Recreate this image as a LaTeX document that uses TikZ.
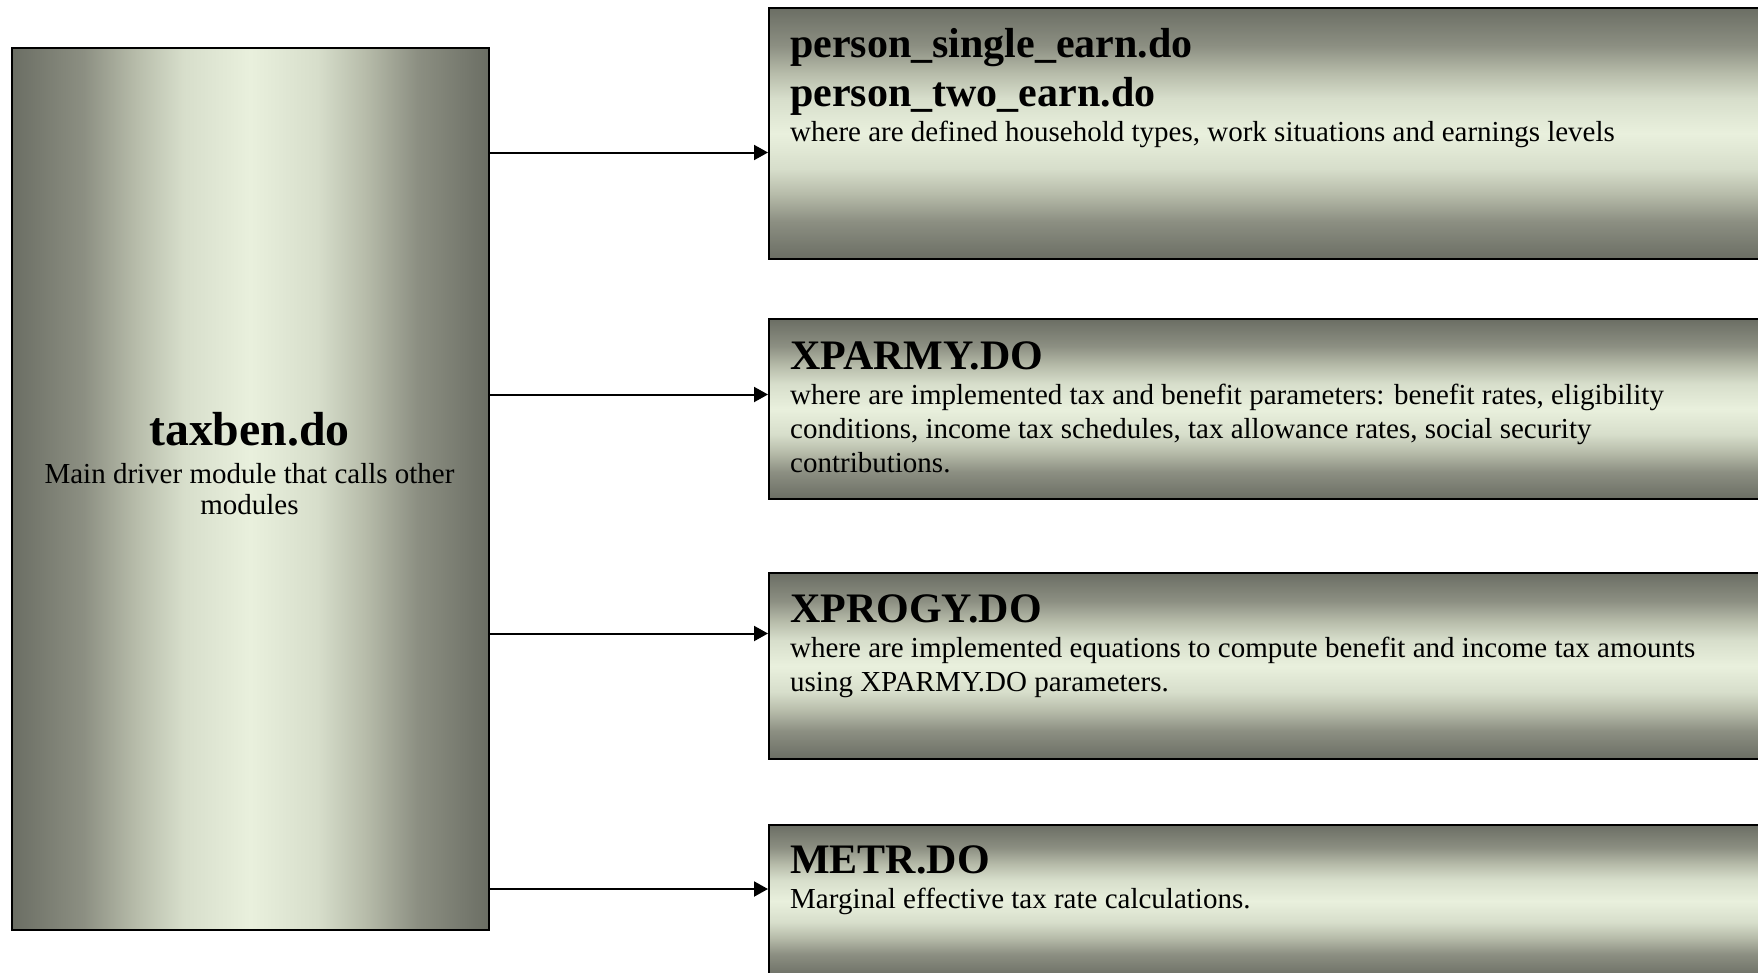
\documentclass[tikz,border=0pt]{standalone}
\usepackage{fontspec}
\setmainfont{Liberation Serif}
\usetikzlibrary{arrows.meta}
\definecolor{dk}{RGB}{107,110,100}
\definecolor{mdA}{RGB}{140,143,130}
\definecolor{mdB}{RGB}{183,188,170}
\definecolor{mdC}{RGB}{215,222,203}
\definecolor{lt}{RGB}{233,240,221}
\pgfdeclarehorizontalshading{hmetal}{100bp}{color(0bp)=(dk); color(25bp)=(dk); color(32.5bp)=(mdA); color(38bp)=(mdB); color(43bp)=(mdC); color(50bp)=(lt); color(57bp)=(mdC); color(62bp)=(mdB); color(67.5bp)=(mdA); color(75bp)=(dk); color(100bp)=(dk)}
\pgfdeclareverticalshading{vmetal}{100bp}{color(0bp)=(dk); color(25bp)=(dk); color(32.5bp)=(mdA); color(38bp)=(mdB); color(43bp)=(mdC); color(50bp)=(lt); color(57bp)=(mdC); color(62bp)=(mdB); color(67.5bp)=(mdA); color(75bp)=(dk); color(100bp)=(dk)}
\tikzset{
 lbox/.style={rectangle, draw=black, line width=2bp, shade, shading=hmetal, inner sep=0pt, anchor=north west},
 rbox/.style={rectangle, draw=black, line width=2bp, shade, shading=vmetal, inner sep=0pt, anchor=north west},
 head/.style={anchor=base west, inner sep=0pt, font=\fontsize{42bp}{48bp}\selectfont\bfseries},
 body/.style={anchor=base west, inner sep=0pt, font=\fontsize{29bp}{33.5bp}\selectfont},
 lhead/.style={anchor=base, inner sep=0pt, font=\fontsize{47.8bp}{54bp}\selectfont\bfseries},
 lbody/.style={anchor=base, inner sep=0pt, font=\fontsize{29bp}{31bp}\selectfont},
 arr/.style={draw=black, line width=2bp, -{Triangle[length=14bp,width=15bp]}},
}
\begin{document}
\begin{tikzpicture}[x=1bp, y=-1bp]
\useasboundingbox (0,0) rectangle (1758,972);
\clip (0,0) rectangle (1758,972);
% left box
\node[lbox, minimum width=477bp, minimum height=882bp] (L) at (11,47) {};
\node[lhead] (Lh) at (249.5,445) {taxben.do};
\node[lbody] (Lb1) at (249.5,483) {Main driver module that calls other};
\node[lbody] (Lb2) at (249.5,514) {modules};
% right boxes
\node[rbox, minimum width=1100bp, minimum height=251bp] (B1) at (768,7) {};
\node[rbox, minimum width=1100bp, minimum height=180bp] (B2) at (768,318) {};
\node[rbox, minimum width=1100bp, minimum height=186bp] (B3) at (768,572) {};
\node[rbox, minimum width=1100bp, minimum height=152bp] (B4) at (768,824) {};
% texts box 1
\node[head] (h1a) at (790,57) {person\_single\_earn.do};
\node[head] (h1b) at (790,106) {person\_two\_earn.do};
\node[body] (b1a) at (790,141) {where are defined household types, work situations and earnings levels};
% texts box 2
\node[head] (h2) at (790,369) {XPARMY.DO};
\node[body] (b2a) at (790,404) {where are implemented tax and benefit parameters: benefit rates, eligibility};
\node[body] (b2b) at (790,438) {conditions, income tax schedules, tax allowance rates, social security};
\node[body] (b2c) at (790,472) {contributions.};
% texts box 3
\node[head] (h3) at (790,622) {XPROGY.DO};
\node[body] (b3a) at (790,657) {where are implemented equations to compute benefit and income tax amounts};
\node[body] (b3b) at (790,691) {using XPARMY.DO parameters.};
% texts box 4
\node[head] (h4) at (790,873) {METR.DO};
\node[body] (b4a) at (790,908) {Marginal effective tax rate calculations.};
% connectors
\coordinate (y1) at (0,152.5);
\coordinate (y2) at (0,394.5);
\coordinate (y3) at (0,633.5);
\coordinate (y4) at (0,889);
\draw[arr] (L.east |- y1) -- (B1.west |- y1);
\draw[arr] (L.east |- y2) -- (B2.west |- y2);
\draw[arr] (L.east |- y3) -- (B3.west |- y3);
\draw[arr] (L.east |- y4) -- (B4.west |- y4);
\end{tikzpicture}
\end{document}
